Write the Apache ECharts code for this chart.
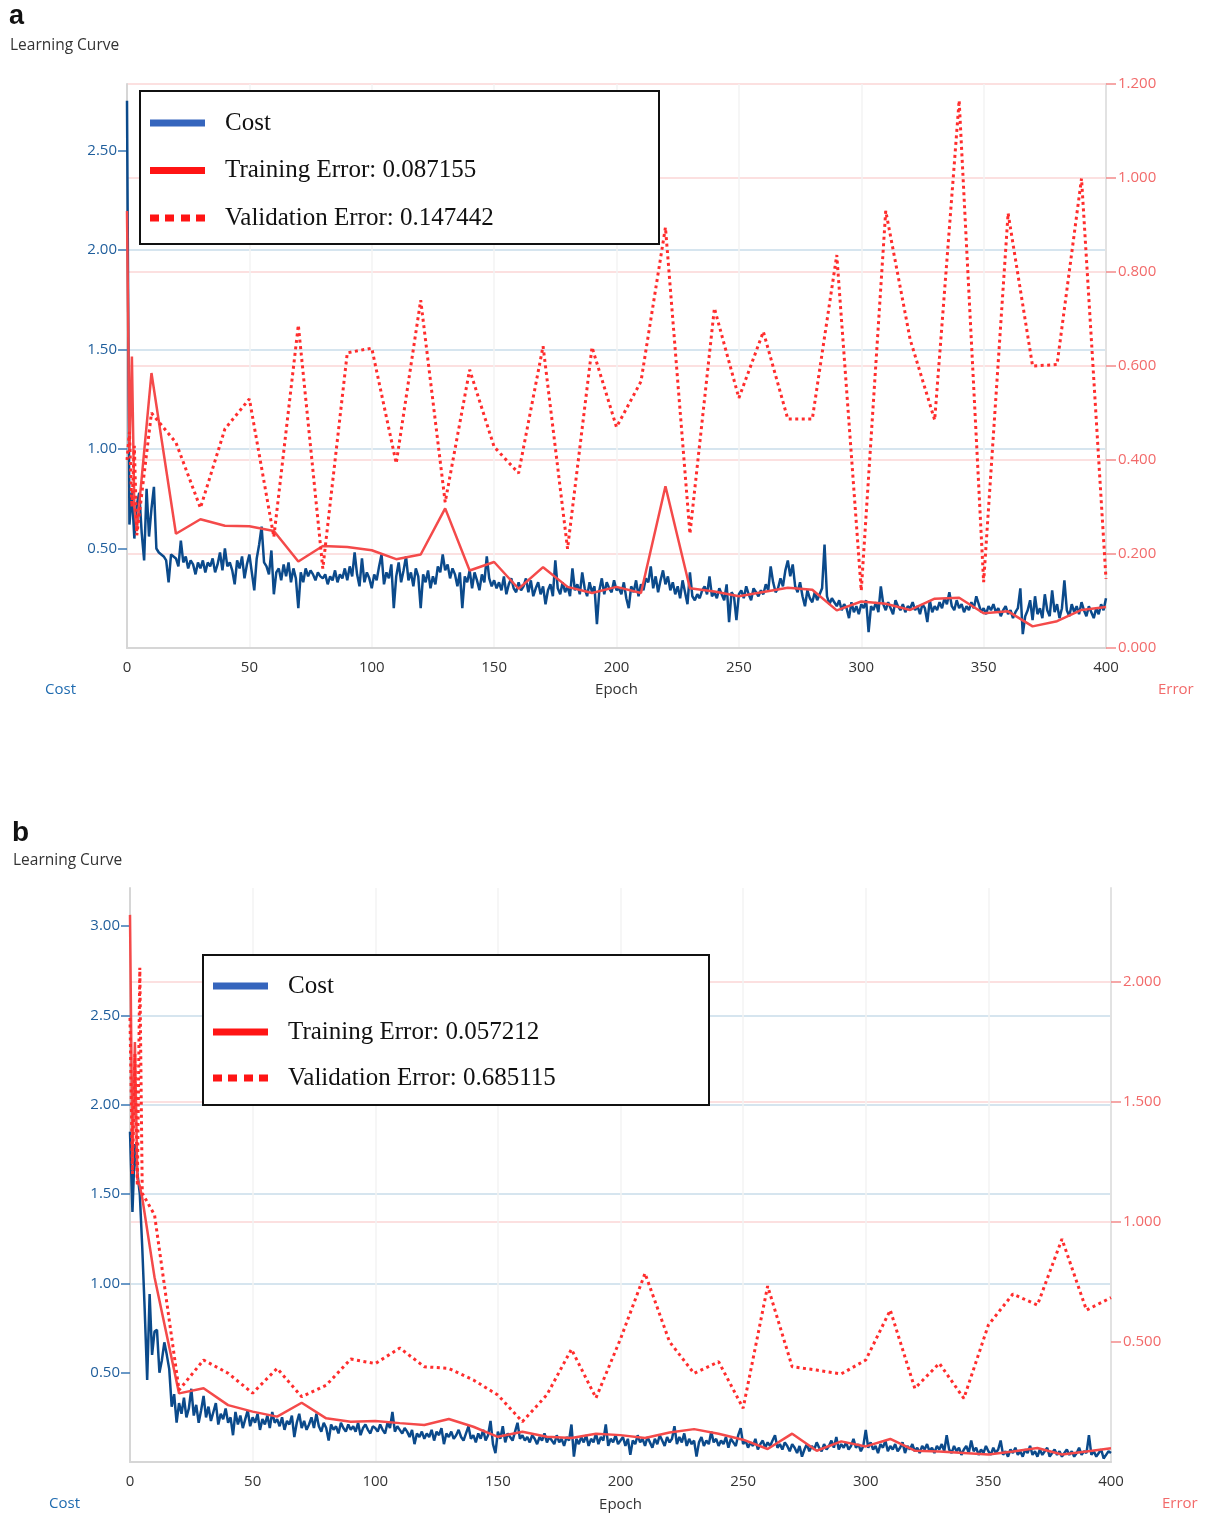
<!DOCTYPE html>
<html>
<head>
<meta charset="utf-8">
<title>Learning Curve</title>
<script src="https://cdn.jsdelivr.net/npm/echarts@6/dist/echarts.min.js"></script>
<style>
  html, body { margin: 0; padding: 0; background: #ffffff; }
  #chart { width: 1211px; height: 1515px; }
</style>
</head>
<body>
<div id="chart"></div>
<script>
// ---- panel a data ----
// cost, one value per epoch (0..400)
const costA = [
  2.75,
  0.62,0.78,0.55,0.72,0.78,0.58,0.44,0.80,0.56,0.70,
  0.81,0.50,0.48,0.47,0.46,0.44,0.33,0.47,0.46,0.45,
  0.41,0.54,0.43,0.46,0.40,0.44,0.42,0.37,0.43,0.40,
  0.44,0.38,0.43,0.41,0.45,0.38,0.42,0.48,0.39,0.50,
  0.41,0.43,0.39,0.32,0.44,0.40,0.46,0.35,0.42,0.47,
  0.38,0.29,0.45,0.52,0.61,0.43,0.41,0.37,0.49,0.27,
  0.38,0.40,0.34,0.42,0.36,0.43,0.33,0.40,0.35,0.20,
  0.38,0.33,0.40,0.36,0.39,0.37,0.34,0.38,0.36,0.35,
  0.37,0.32,0.36,0.34,0.39,0.33,0.37,0.35,0.40,0.34,
  0.41,0.36,0.48,0.37,0.31,0.45,0.33,0.38,0.35,0.30,
  0.37,0.34,0.41,0.47,0.32,0.38,0.35,0.42,0.20,0.36,
  0.43,0.33,0.39,0.46,0.34,0.38,0.31,0.40,0.36,0.20,
  0.37,0.33,0.39,0.30,0.36,0.32,0.41,0.38,0.47,0.39,
  0.42,0.35,0.40,0.37,0.31,0.38,0.20,0.36,0.33,0.39,
  0.30,0.38,0.34,0.29,0.37,0.33,0.46,0.35,0.31,0.34,
  0.30,0.33,0.29,0.36,0.27,0.32,0.35,0.30,0.28,0.33,
  0.29,0.31,0.35,0.28,0.34,0.26,0.30,0.33,0.27,0.31,
  0.22,0.29,0.32,0.26,0.44,0.30,0.27,0.33,0.28,0.31,
  0.26,0.40,0.29,0.32,0.27,0.38,0.30,0.26,0.33,0.28,
  0.31,0.12,0.29,0.35,0.27,0.33,0.30,0.28,0.34,0.29,
  0.30,0.27,0.33,0.25,0.20,0.31,0.28,0.34,0.26,0.32,
  0.29,0.35,0.33,0.41,0.30,0.36,0.28,0.34,0.39,0.32,
  0.36,0.29,0.33,0.27,0.31,0.25,0.34,0.28,0.22,0.38,
  0.26,0.24,0.27,0.25,0.29,0.31,0.27,0.36,0.26,0.28,
  0.25,0.30,0.27,0.24,0.32,0.13,0.28,0.26,0.14,0.27,
  0.29,0.25,0.31,0.27,0.24,0.30,0.28,0.26,0.29,0.27,
  0.32,0.29,0.41,0.33,0.28,0.30,0.35,0.31,0.39,0.44,
  0.36,0.42,0.31,0.28,0.33,0.26,0.21,0.29,0.25,0.23,
  0.28,0.24,0.27,0.30,0.52,0.26,0.22,0.25,0.23,0.21,
  0.24,0.19,0.22,0.20,0.15,0.23,0.18,0.21,0.17,0.22,
  0.20,0.24,0.08,0.21,0.19,0.23,0.18,0.31,0.22,0.19,
  0.23,0.20,0.17,0.24,0.21,0.19,0.22,0.18,0.21,0.20,
  0.23,0.19,0.21,0.17,0.22,0.20,0.13,0.24,0.18,0.21,
  0.19,0.23,0.20,0.25,0.22,0.28,0.21,0.19,0.24,0.20,
  0.22,0.18,0.21,0.19,0.23,0.20,0.26,0.22,0.18,0.20,
  0.17,0.21,0.19,0.22,0.18,0.20,0.16,0.19,0.21,0.17,
  0.19,0.15,0.18,0.20,0.30,0.07,0.16,0.19,0.24,0.14,
  0.26,0.17,0.20,0.15,0.27,0.19,0.16,0.29,0.18,0.22,
  0.15,0.20,0.34,0.19,0.16,0.22,0.18,0.21,0.17,0.23,
  0.19,0.16,0.21,0.18,0.15,0.20,0.17,0.22,0.19,0.25
];
const errEpochsA = [0,1,2,3,4,10,20,30,40,50,60,70,80,90,100,110,120,130,140,150,160,170,180,190,200,
  210,220,230,240,250,260,270,280,290,300,310,320,330,340,350,360,370,380,390,400];
const trainA = [0.93,0.42,0.62,0.30,0.25,0.585,0.243,0.274,0.26,0.259,0.249,0.184,0.217,0.215,0.208,0.189,0.199,0.297,0.165,0.183,0.126,0.172,0.13,0.117,0.13,
  0.117,0.344,0.127,0.12,0.11,0.119,0.128,0.124,0.08,0.099,0.094,0.081,0.105,0.107,0.074,0.078,0.046,0.057,0.081,0.087];
const validA = [0.40,0.46,0.30,0.43,0.24,0.50,0.437,0.298,0.466,0.53,0.236,0.687,0.169,0.628,0.638,0.393,0.74,0.31,0.592,0.428,0.372,0.642,0.211,0.64,0.47,
  0.567,0.895,0.243,0.723,0.532,0.673,0.487,0.487,0.836,0.122,0.93,0.656,0.485,1.165,0.14,0.925,0.60,0.603,0.999,0.147];
const legendA = ['Cost', 'Training Error: 0.087155', 'Validation Error: 0.147442'];

// ---- panel b data ----
const costB = [
  1.85,
  1.40,1.78,1.62,1.50,1.20,0.85,0.46,0.94,0.60,0.73,
  0.74,0.50,0.57,0.67,0.60,0.52,0.31,0.38,0.22,0.33,
  0.27,0.36,0.25,0.30,0.41,0.26,0.32,0.22,0.29,0.37,
  0.25,0.31,0.23,0.28,0.33,0.21,0.27,0.24,0.30,0.22,
  0.25,0.15,0.28,0.21,0.26,0.19,0.24,0.29,0.20,0.25,
  0.22,0.27,0.18,0.24,0.21,0.26,0.19,0.28,0.22,0.24,
  0.20,0.25,0.18,0.23,0.21,0.26,0.14,0.22,0.27,0.19,
  0.23,0.18,0.21,0.25,0.19,0.27,0.20,0.17,0.22,0.19,
  0.12,0.21,0.18,0.20,0.16,0.22,0.19,0.17,0.21,0.18,
  0.20,0.17,0.22,0.15,0.19,0.21,0.18,0.16,0.20,0.19,
  0.17,0.21,0.18,0.16,0.22,0.19,0.28,0.17,0.20,0.18,
  0.16,0.19,0.17,0.14,0.18,0.10,0.16,0.14,0.17,0.13,
  0.16,0.14,0.18,0.12,0.17,0.15,0.19,0.10,0.16,0.14,
  0.17,0.13,0.15,0.18,0.14,0.12,0.16,0.20,0.13,0.15,
  0.11,0.16,0.13,0.18,0.12,0.15,0.23,0.10,0.05,0.17,
  0.13,0.20,0.11,0.16,0.14,0.12,0.17,0.22,0.13,0.15,
  0.12,0.14,0.11,0.15,0.13,0.10,0.14,0.12,0.16,0.11,
  0.14,0.12,0.10,0.15,0.11,0.13,0.09,0.14,0.12,0.21,
  0.03,0.13,0.10,0.14,0.11,0.15,0.09,0.13,0.11,0.16,
  0.10,0.14,0.12,0.21,0.09,0.13,0.11,0.15,0.10,0.12,
  0.14,0.09,0.13,0.04,0.12,0.10,0.15,0.11,0.13,0.09,
  0.14,0.11,0.08,0.13,0.10,0.15,0.12,0.09,0.14,0.11,
  0.13,0.20,0.10,0.14,0.11,0.16,0.09,0.13,0.10,0.12,
  0.03,0.11,0.14,0.09,0.12,0.10,0.17,0.11,0.13,0.09,
  0.12,0.10,0.14,0.08,0.13,0.11,0.09,0.15,0.19,0.10,
  0.12,0.08,0.11,0.09,0.13,0.07,0.10,0.12,0.08,0.11,
  0.09,0.12,0.15,0.08,0.10,0.07,0.11,0.09,0.06,0.10,
  0.08,0.05,0.09,0.03,0.07,0.10,0.06,0.09,0.07,0.11,
  0.08,0.06,0.10,0.07,0.09,0.12,0.08,0.14,0.07,0.10,
  0.08,0.11,0.07,0.09,0.13,0.08,0.10,0.06,0.09,0.18,
  0.08,0.11,0.07,0.09,0.05,0.10,0.08,0.12,0.06,0.09,
  0.07,0.10,0.06,0.08,0.11,0.05,0.09,0.07,0.10,0.06,
  0.08,0.05,0.09,0.07,0.10,0.06,0.08,0.05,0.09,0.07,
  0.10,0.06,0.15,0.07,0.05,0.09,0.06,0.08,0.04,0.07,
  0.09,0.05,0.12,0.06,0.08,0.04,0.07,0.05,0.09,0.06,
  0.04,0.08,0.05,0.07,0.12,0.04,0.06,0.03,0.07,0.05,
  0.08,0.04,0.06,0.03,0.07,0.05,0.09,0.04,0.06,0.03,
  0.07,0.04,0.06,0.08,0.03,0.05,0.07,0.04,0.06,0.03,
  0.05,0.07,0.04,0.06,0.03,0.05,0.08,0.04,0.06,0.05,
  0.15,0.04,0.06,0.03,0.05,0.07,0.02,0.04,0.06,0.05
];
const errEpochsB = [0,1,2,3,4,5,10,20,30,40,50,60,70,80,90,100,110,120,130,140,150,160,170,180,190,200,
  210,220,230,240,250,260,270,280,290,300,310,320,330,340,350,360,370,380,390,400];
const trainB = [2.28,1.25,1.75,1.18,1.15,1.10,0.77,0.286,0.307,0.237,0.21,0.189,0.247,0.182,0.168,0.171,0.162,0.154,0.179,0.147,0.105,0.126,0.105,0.10,0.118,0.112,
  0.10,0.123,0.137,0.118,0.093,0.054,0.118,0.047,0.086,0.065,0.096,0.047,0.044,0.038,0.031,0.044,0.058,0.031,0.044,0.057];
const validB = [1.85,1.20,1.70,1.15,2.06,1.12,1.03,0.30,0.425,0.37,0.287,0.39,0.272,0.32,0.429,0.41,0.475,0.397,0.39,0.342,0.279,0.168,0.28,0.47,0.267,0.513,
  0.786,0.501,0.369,0.418,0.224,0.733,0.397,0.383,0.367,0.425,0.633,0.307,0.411,0.265,0.571,0.70,0.654,0.929,0.633,0.685];
const legendB = ['Cost', 'Training Error: 0.057212', 'Validation Error: 0.685115'];

// tick labels
const epochTicks = [0, 50, 100, 150, 200, 250, 300, 350, 400];
const costTicksA = [0.5, 1, 1.5, 2, 2.5];
const errTicksA = [0, 0.2, 0.4, 0.6, 0.8, 1.0, 1.2];
const costTicksB = [0.5, 1, 1.5, 2, 2.5, 3];
const errTicksB = [0.5, 1, 1.5, 2];

const FONT = 'Open Sans';
const COST_LABEL = '#1f5e9c';
const ERR_LABEL = '#f26a6a';
const DOTS = 'path://M0,0H9V7H0Z M15,0H24V7H15Z M31,0H40V7H31Z M46,0H55V7H46Z';

function xAxisFor(gridIndex, nameGap) {
  return {
    type: 'value', gridIndex: gridIndex, min: 0, max: 400, interval: 50,
    name: 'Epoch', nameLocation: 'middle', nameGap: nameGap,
    nameTextStyle: { color: '#333', fontSize: 15, fontFamily: FONT },
    axisLine: { show: true, onZero: false, lineStyle: { color: '#d6d6d6', width: 2 } },
    axisTick: { show: false },
    axisLabel: { color: '#333', fontSize: 15, fontFamily: FONT, margin: 12, customValues: epochTicks },
    splitLine: { show: true, showMinLine: false, showMaxLine: false, lineStyle: { color: '#f3f3f3', width: 1.5 } }
  };
}

function costAxis(gridIndex, max, ticks, padRight) {
  return {
    type: 'value', gridIndex: gridIndex, position: 'left', min: 0, max: max, interval: 0.5,
    name: 'Cost', nameLocation: 'start', nameGap: 34,
    nameTextStyle: { color: '#1f6bb0', fontSize: 15, fontFamily: FONT, align: 'right', padding: [0, padRight, 0, 0] },
    axisLine: { show: true, lineStyle: { color: '#d6d6d6', width: 2 } },
    axisTick: { show: true, length: 9, customValues: ticks, lineStyle: { color: '#3a78b5', width: 1.5 } },
    axisLabel: { color: COST_LABEL, fontSize: 15, fontFamily: FONT, margin: 10, customValues: ticks,
      formatter: function (v) { return v.toFixed(2); } },
    splitLine: { show: true, showMinLine: false, showMaxLine: false, lineStyle: { color: '#c9dcea', width: 1.5 } }
  };
}

function errAxis(gridIndex, max, interval, ticks, padLeft) {
  return {
    type: 'value', gridIndex: gridIndex, position: 'right', min: 0, max: max, interval: interval,
    name: 'Error', nameLocation: 'start', nameGap: 34,
    nameTextStyle: { color: ERR_LABEL, fontSize: 15, fontFamily: FONT, align: 'left', padding: [0, 0, 0, padLeft] },
    axisLine: { show: true, lineStyle: { color: '#e2e2e2', width: 2 } },
    axisTick: { show: true, length: 10, customValues: ticks, lineStyle: { color: '#f48a8a', width: 1.5 } },
    axisLabel: { color: ERR_LABEL, fontSize: 15, fontFamily: FONT, margin: 12, customValues: ticks,
      formatter: function (v) { return v.toFixed(3); } },
    splitLine: { show: true, showMinLine: false, lineStyle: { color: '#fbd6d6', width: 1.5 } }
  };
}

function pairs(xs, ys) {
  return ys.map(function (v, i) { return [xs[i], v]; });
}
function perEpoch(ys) {
  return ys.map(function (v, i) { return [i, v]; });
}

function seriesFor(panel, names, cost, epochs, train, valid) {
  const ax = { xAxisIndex: panel, silent: true, symbol: 'none', showSymbol: false, animation: false };
  return [
    Object.assign({ type: 'line', name: names[0], yAxisIndex: panel * 2, data: perEpoch(cost),
      lineStyle: { color: '#0b4a8b', width: 2.5 }, itemStyle: { color: '#0b4a8b' }, z: 2 }, ax),
    Object.assign({ type: 'line', name: names[1], yAxisIndex: panel * 2 + 1, data: pairs(epochs, train),
      lineStyle: { color: '#f44a4a', width: 2.5 }, itemStyle: { color: '#f44a4a' }, z: 3 }, ax),
    Object.assign({ type: 'line', name: names[2], yAxisIndex: panel * 2 + 1, data: pairs(epochs, valid),
      lineStyle: { color: '#ff2d2d', width: 3, type: [3, 3.5] }, itemStyle: { color: '#ff2d2d' }, z: 4 }, ax)
  ];
}

function legendFor(names, left, top, gap) {
  return {
    orient: 'vertical', left: left, top: top, padding: 0, itemGap: gap,
    itemWidth: 55, itemHeight: 7, selectedMode: false, z: 20,
    textStyle: { fontFamily: 'Liberation Serif', fontSize: 25, color: '#111', lineHeight: 30, padding: [0, 0, 0, 15] },
    data: [
      { name: names[0], icon: 'rect', itemStyle: { color: '#3565bd', borderWidth: 0 } },
      { name: names[1], icon: 'rect', itemStyle: { color: '#ff1414', borderWidth: 0 } },
      { name: names[2], icon: DOTS, itemStyle: { color: '#ff1414', borderWidth: 0 } }
    ]
  };
}

const chart = echarts.init(document.getElementById('chart'), null, { renderer: 'canvas' });

const option = {
  backgroundColor: '#ffffff',
  animation: false,
  title: [
    { text: 'a', left: 9, top: 3, padding: 0, textStyle: { fontFamily: 'Liberation Sans', fontSize: 27, fontWeight: 'bold', color: '#111' } },
    { text: 'Learning Curve', left: 10, top: 38, padding: 0, textStyle: { fontFamily: FONT, fontSize: 15.5, fontWeight: 'normal', color: '#333' } },
    { text: 'b', left: 12, top: 819, padding: 0, textStyle: { fontFamily: 'Liberation Sans', fontSize: 28, fontWeight: 'bold', color: '#111' } },
    { text: 'Learning Curve', left: 13, top: 853, padding: 0, textStyle: { fontFamily: FONT, fontSize: 15.5, fontWeight: 'normal', color: '#333' } }
  ],
  grid: [
    { left: 127, top: 84, width: 979, height: 564 },
    { left: 130, top: 888, width: 981, height: 574 }
  ],
  xAxis: [xAxisFor(0, 34), xAxisFor(1, 35)],
  yAxis: [
    costAxis(0, 2.834, costTicksA, 51),
    errAxis(0, 1.2, 0.2, errTicksA, 52),
    costAxis(1, 3.214, costTicksB, 50),
    errAxis(1, 2.392, 0.5, errTicksB, 51)
  ],
  legend: [
    legendFor(legendA, 150, 108, 17.5),
    legendFor(legendB, 213, 971, 16)
  ],
  graphic: [
    { type: 'rect', z: 15, shape: { x: 140, y: 91, width: 519, height: 153 },
      style: { fill: '#ffffff', stroke: '#111', lineWidth: 2 } },
    { type: 'rect', z: 15, shape: { x: 203, y: 955, width: 506, height: 150 },
      style: { fill: '#ffffff', stroke: '#111', lineWidth: 2 } }
  ],
  series: seriesFor(0, legendA, costA, errEpochsA, trainA, validA)
    .concat(seriesFor(1, legendB, costB, errEpochsB, trainB, validB))
};

chart.setOption(option);
</script>
</body>
</html>
